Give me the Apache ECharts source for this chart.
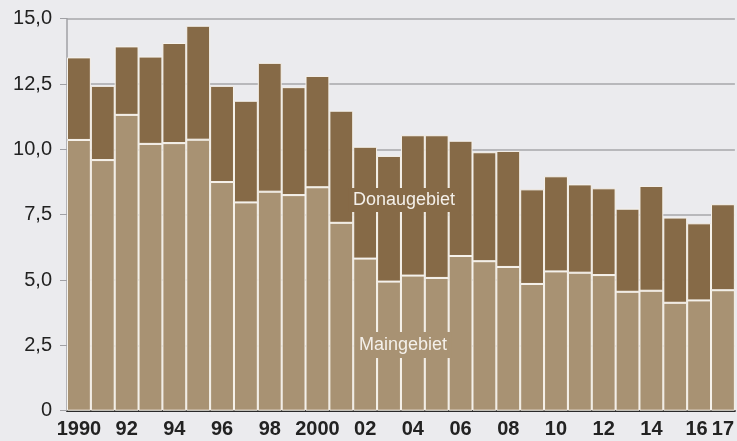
<!DOCTYPE html>
<html><head><meta charset="utf-8">
<script src="https://cdn.jsdelivr.net/npm/echarts@6/dist/echarts.min.js"></script>
<style>html,body{margin:0;padding:0;background:#ebebee;}#c{width:737px;height:441px;}</style>
</head><body><div id="c"></div>
<script>
const years = ['1990','1991','1992','1993','1994','1995','1996','1997','1998','1999','2000','2001','2002','2003','2004','2005','2006','2007','2008','2009','2010','2011','2012','2013','2014','2015','2016','2017'];
const xLabels = ['1990','','92','','94','','96','','98','','2000','','02','','04','','06','','08','','10','','12','','14','','16','17'];
const maingebiet = [10.36,9.59,11.32,10.21,10.24,10.37,8.75,7.97,8.38,8.25,8.55,7.19,5.82,4.94,5.17,5.08,5.92,5.72,5.50,4.85,5.33,5.28,5.19,4.55,4.59,4.13,4.22,4.61];
const totals = [13.52,12.43,13.94,13.55,14.07,14.73,12.43,11.86,13.31,12.38,12.81,11.48,10.10,9.75,10.54,10.54,10.33,9.89,9.94,8.47,8.97,8.66,8.51,7.73,8.60,7.39,7.17,7.90];
const donaugebiet = totals.map((t,i)=>+(t - maingebiet[i]).toFixed(2));

const chart = echarts.init(document.getElementById('c'));
const font = '"Liberation Sans", Arial, sans-serif';
chart.setOption({
  backgroundColor:'#ebebee',
  animation:false,
  grid:{left:67, top:18.7, right:-2, bottom:30.3},
  xAxis:{type:'category', data:years, boundaryGap:true,
    axisLine:{lineStyle:{color:'#2a2a2a', width:2}, z:10},
    axisTick:{show:false},
    axisLabel:{interval:0, margin:9, color:'#222', fontFamily:font, fontWeight:'bold', fontSize:20,
      formatter:(v,i)=> xLabels[i]==='16' ? '{l|16}' : xLabels[i],
      rich:{l:{fontFamily:font, fontWeight:'bold', fontSize:20, color:'#222', padding:[0,5,0,0]}}}},
  yAxis:{type:'value', min:0, max:15, interval:2.5,
    axisLine:{show:true, lineStyle:{color:'#a0a0a4', width:1.5}},
    axisTick:{show:true, length:7, inside:false, lineStyle:{color:'#a0a0a4'}},
    splitLine:{lineStyle:{color:'#a7a7aa', width:1.5}},
    axisLabel:{margin:15, color:'#222', fontFamily:font, fontSize:20,
      formatter:v=> v===0 ? '0' : v.toFixed(1).replace('.',',')}},
  series:[
    {name:'Maingebiet', type:'bar', stack:'s', data:maingebiet, barCategoryGap:'0%',
     itemStyle:{color:'#a89273', borderColor:'#f7f3ec', borderWidth:1}},
    {name:'Donaugebiet', type:'bar', stack:'s', data:donaugebiet, barCategoryGap:'0%',
     itemStyle:{color:'#866a47', borderColor:'#f7f3ec', borderWidth:1}}
  ],
  graphic:[
    {type:'text', x:404, y:200, z:100, style:{text:'Donaugebiet', fill:'#f4f0ea', font:'18px '+font,
      align:'center', verticalAlign:'middle', backgroundColor:'#866a47', padding:[3,4,3,4]}},
    {type:'text', x:403, y:345, z:100, style:{text:'Maingebiet', fill:'#f4f0ea', font:'18px '+font,
      align:'center', verticalAlign:'middle', backgroundColor:'#a89273', padding:[4,4,4,4]}}
  ]
});
</script></body></html>
